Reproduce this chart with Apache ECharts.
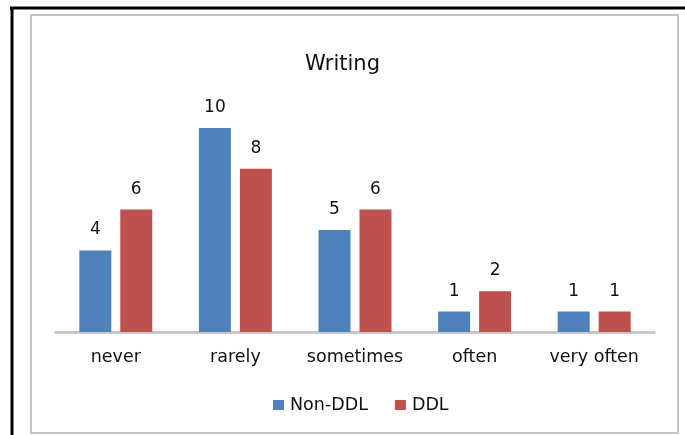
<!DOCTYPE html>
<html><head><meta charset="utf-8">
<script src="https://cdn.jsdelivr.net/npm/echarts@6/dist/echarts.min.js"></script>
<style>html,body{margin:0;padding:0;background:#fff;}#c{width:685px;height:435px;}</style>
</head><body><div id="c"></div>
<script>
const categories = ['never', 'rarely', 'sometimes', 'often', 'very often'];
const nonDDL = [4, 10, 5, 1, 1];
const ddl = [6, 8, 6, 2, 1];
const seriesNames = ['Non-DDL', 'DDL'];
const chartTitle = 'Writing';

const font = '"DejaVu Sans", sans-serif';
const txt = '#111';
const chart = echarts.init(document.getElementById('c'), null, {renderer: 'canvas'});
chart.setOption({
  animation: false,
  backgroundColor: '#fff',
  title: {
    text: chartTitle, left: 'center', top: 49,
    textStyle: {fontFamily: font, fontSize: 21, fontWeight: 'normal', color: txt}
  },
  graphic: [
    {type: 'rect', shape: {x: 31, y: 15, width: 647, height: 418},
     style: {fill: 'none', stroke: '#c4c4c4', lineWidth: 2}, z: -1},
    {type: 'line', shape: {x1: 0, y1: 8, x2: 685, y2: 8},
     style: {stroke: '#000', lineWidth: 3}},
    {type: 'line', shape: {x1: 12, y1: 8, x2: 12, y2: 435},
     style: {stroke: '#000', lineWidth: 3}},
    {type: 'rect', shape: {x: 0, y: 0, width: 10, height: 435}, style: {fill: '#fff'}}
  ],
  legend: {
    data: seriesNames, left: 268, top: 391, itemWidth: 11, itemHeight: 10,
    icon: 'rect', itemGap: 27,
    textStyle: {fontFamily: font, fontSize: 17.5, color: txt, padding: [0, 0, 0, 1]}
  },
  grid: {left: 56, right: 31, top: 128, bottom: 103},
  xAxis: {
    type: 'category', data: categories,
    axisLine: {lineStyle: {color: '#c8c8c8', width: 3}},
    axisTick: {show: false},
    axisLabel: {interval: 0, fontFamily: font, fontSize: 17.5, color: txt, margin: 16}
  },
  yAxis: {type: 'value', min: 0, max: 10, show: false, splitLine: {show: false}},
  series: [
    {name: seriesNames[0], type: 'bar', data: nonDDL, barWidth: 32, barGap: '28%',
     itemStyle: {color: '#4F81BD'},
     label: {show: true, position: 'top', distance: 12, fontFamily: font, fontSize: 17, color: txt}},
    {name: seriesNames[1], type: 'bar', data: ddl, barWidth: 32,
     itemStyle: {color: '#C0504D'},
     label: {show: true, position: 'top', distance: 12, fontFamily: font, fontSize: 17, color: txt}}
  ]
});
</script></body></html>
